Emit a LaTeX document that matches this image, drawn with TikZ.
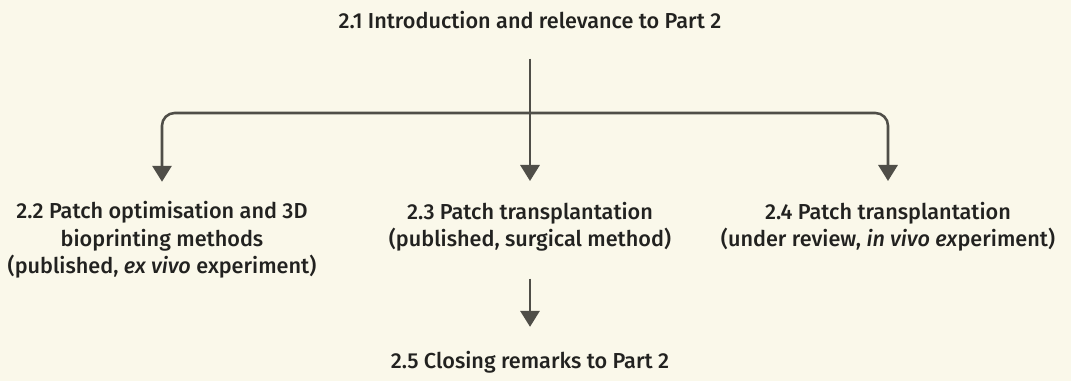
\documentclass[tikz,border=0pt]{standalone}
\usepackage{fontspec}
\setmainfont{Fira Sans}[BoldFont={Fira Sans Medium}]
\usepackage{tikz}
\usetikzlibrary{positioning}
\usetikzlibrary{arrows.meta}
\definecolor{paper}{HTML}{FAF8EA}
\definecolor{ink}{HTML}{222220}
\definecolor{wire}{HTML}{4F4E48}
\tikzstyle{part} = [text=ink, align=center, inner sep=2pt, font=\bfseries\fontsize{15.4}{19.4}\selectfont]
\tikzstyle{arrow} = [draw=wire, line width=1.8pt, -{Triangle[width=0.48cm,length=0.4cm]}]

\begin{document}
\begin{tikzpicture}[x=0.025cm, y=-0.025cm]
\fill[paper] (0,0) rectangle (1071,381);

\node (intro) [part] at (530,20) {2.1 Introduction and relevance to Part 2};
\node (opt) [part] at (162,240) {2.2 Patch optimisation and 3D\\bioprinting methods\\(published, \textit{ex vivo} experiment)};
\node (surg) [part] at (530,227) {2.3 Patch transplantation\\(published, surgical method)};
\node (invivo) [part] at (888,227) {2.4 Patch transplantation\\(under review, \textit{in vivo ex}periment)};
\node (close) [part] at (530,362) {2.5 Closing remarks to Part 2};
\coordinate (fork) at (530,113);

\draw [arrow, shorten <=19pt, shorten >=13pt] (intro) -- (surg);
\draw [arrow, rounded corners=9pt, shorten >=12pt] (fork) -| (opt.north);
\draw [arrow, rounded corners=9pt, shorten >=13pt] (fork) -| (invivo.north);
\draw [arrow, shorten <=17pt, shorten >=15pt] (surg) -- (close);
\end{tikzpicture}
\end{document}
